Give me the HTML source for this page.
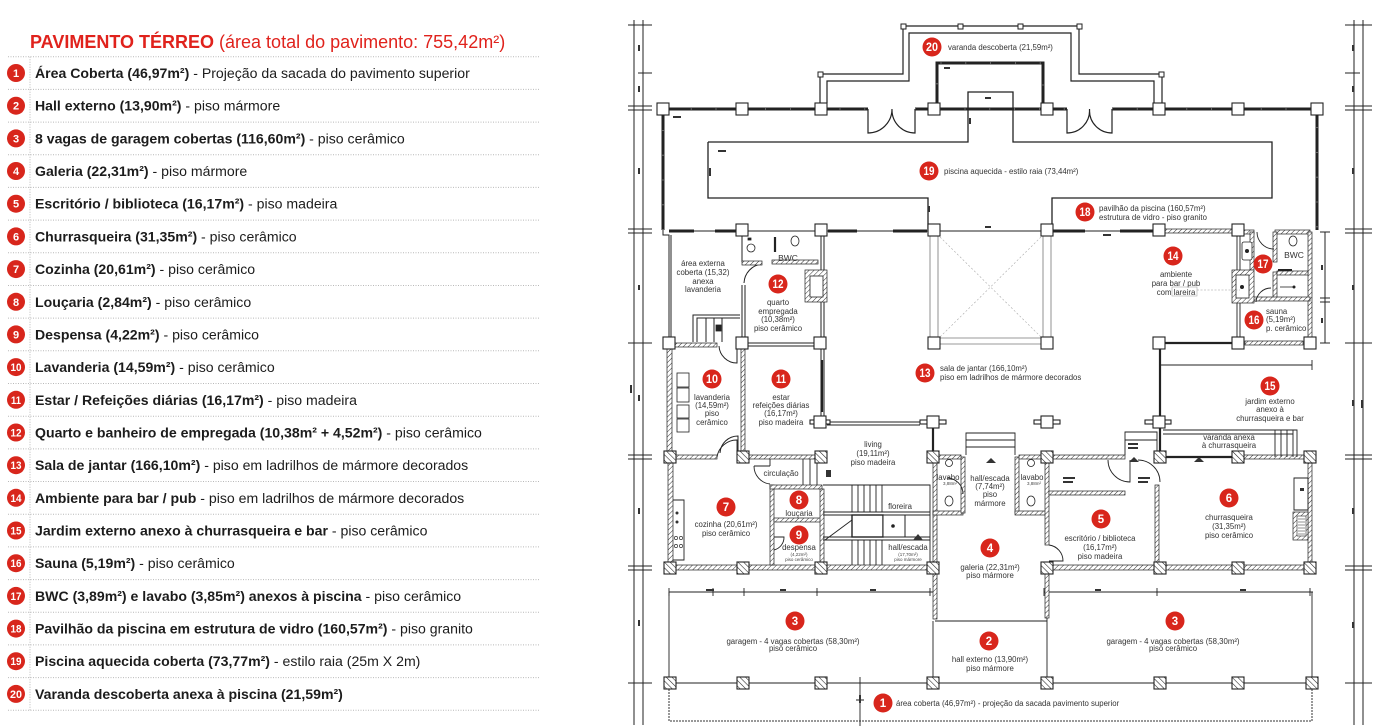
<!DOCTYPE html>
<html><head><meta charset="utf-8">
<style>
html,body{margin:0;padding:0;background:#fff;width:1390px;height:727px;overflow:hidden}
svg{display:block}
text{font-family:"Liberation Sans",Arial,sans-serif}
.lg{font-size:14.1px;fill:#1c1c1c}
.pl{font-size:7.8px;fill:#333}
.sm{font-size:4.5px;fill:#444}
.bn{font-family:"Liberation Sans Narrow","Liberation Sans",Arial,sans-serif;font-weight:bold;fill:#fff}
</style></head><body>
<svg width="1390" height="727" viewBox="0 0 1390 727" xmlns="http://www.w3.org/2000/svg">
<defs>
<pattern id="h" width="3.5" height="3.5" patternUnits="userSpaceOnUse" patternTransform="rotate(45)"><rect width="3.5" height="3.5" fill="#fff"/><line x1="0" y1="0" x2="0" y2="3.5" stroke="#333" stroke-width="1"/></pattern>
<pattern id="hc" width="4" height="4" patternUnits="userSpaceOnUse" patternTransform="rotate(-45)"><rect width="4" height="4" fill="#fff"/><line x1="0" y1="0" x2="0" y2="4" stroke="#222" stroke-width="1.1"/></pattern>
</defs>

<!-- ================= LEGEND ================= -->
<text x="30" y="48" font-size="18" fill="#e0221c"><tspan font-weight="bold">PAVIMENTO TÉRREO</tspan> (área total do pavimento: 755,42m²)</text>

<g stroke="#b9b9b9" stroke-width="1" stroke-dasharray="1 1.5">
<line x1="8" y1="56.7" x2="540" y2="56.7"/>
<line x1="8" y1="89.4" x2="540" y2="89.4"/>
<line x1="8" y1="122.1" x2="540" y2="122.1"/>
<line x1="8" y1="154.7" x2="540" y2="154.7"/>
<line x1="8" y1="187.4" x2="540" y2="187.4"/>
<line x1="8" y1="220.1" x2="540" y2="220.1"/>
<line x1="8" y1="252.8" x2="540" y2="252.8"/>
<line x1="8" y1="285.5" x2="540" y2="285.5"/>
<line x1="8" y1="318.1" x2="540" y2="318.1"/>
<line x1="8" y1="350.8" x2="540" y2="350.8"/>
<line x1="8" y1="383.5" x2="540" y2="383.5"/>
<line x1="8" y1="416.2" x2="540" y2="416.2"/>
<line x1="8" y1="448.9" x2="540" y2="448.9"/>
<line x1="8" y1="481.5" x2="540" y2="481.5"/>
<line x1="8" y1="514.2" x2="540" y2="514.2"/>
<line x1="8" y1="546.9" x2="540" y2="546.9"/>
<line x1="8" y1="579.6" x2="540" y2="579.6"/>
<line x1="8" y1="612.3" x2="540" y2="612.3"/>
<line x1="8" y1="644.9" x2="540" y2="644.9"/>
<line x1="8" y1="677.6" x2="540" y2="677.6"/>
<line x1="8" y1="710.3" x2="540" y2="710.3"/>
<line x1="30" y1="56.7" x2="30" y2="710.3"/>
</g>

<g fill="#d8261c">
<circle cx="16" cy="73" r="9"/><circle cx="16" cy="105.7" r="9"/><circle cx="16" cy="138.4" r="9"/><circle cx="16" cy="171" r="9"/><circle cx="16" cy="203.7" r="9"/>
<circle cx="16" cy="236.4" r="9"/><circle cx="16" cy="269.1" r="9"/><circle cx="16" cy="301.8" r="9"/><circle cx="16" cy="334.4" r="9"/><circle cx="16" cy="367.1" r="9"/>
<circle cx="16" cy="399.8" r="9"/><circle cx="16" cy="432.5" r="9"/><circle cx="16" cy="465.2" r="9"/><circle cx="16" cy="497.8" r="9"/><circle cx="16" cy="530.5" r="9"/>
<circle cx="16" cy="563.2" r="9"/><circle cx="16" cy="595.9" r="9"/><circle cx="16" cy="628.6" r="9"/><circle cx="16" cy="661.2" r="9"/><circle cx="16" cy="693.9" r="9"/>
</g>
<g class="bn" font-size="11" text-anchor="middle">
<text x="16" y="77">1</text><text x="16" y="109.7">2</text><text x="16" y="142.4">3</text><text x="16" y="175">4</text><text x="16" y="207.7">5</text>
<text x="16" y="240.4">6</text><text x="16" y="273.1">7</text><text x="16" y="305.8">8</text><text x="16" y="338.4">9</text>
<text x="16" y="371.1" textLength="11" lengthAdjust="spacingAndGlyphs">10</text>
<text x="16" y="403.8" textLength="10" lengthAdjust="spacingAndGlyphs">11</text>
<text x="16" y="436.5" textLength="11" lengthAdjust="spacingAndGlyphs">12</text>
<text x="16" y="469.2" textLength="11" lengthAdjust="spacingAndGlyphs">13</text>
<text x="16" y="501.8" textLength="11" lengthAdjust="spacingAndGlyphs">14</text>
<text x="16" y="534.5" textLength="11" lengthAdjust="spacingAndGlyphs">15</text>
<text x="16" y="567.2" textLength="11" lengthAdjust="spacingAndGlyphs">16</text>
<text x="16" y="599.9" textLength="11" lengthAdjust="spacingAndGlyphs">17</text>
<text x="16" y="632.6" textLength="11" lengthAdjust="spacingAndGlyphs">18</text>
<text x="16" y="665.2" textLength="11" lengthAdjust="spacingAndGlyphs">19</text>
<text x="16" y="697.9" textLength="12" lengthAdjust="spacingAndGlyphs">20</text>
</g>

<g class="lg">
<text x="35" y="78"><tspan font-weight="bold">Área Coberta (46,97m²)</tspan> - Projeção da sacada do pavimento superior</text>
<text x="35" y="110.7"><tspan font-weight="bold">Hall externo (13,90m²)</tspan> - piso mármore</text>
<text x="35" y="143.4"><tspan font-weight="bold">8 vagas de garagem cobertas (116,60m²)</tspan> - piso cerâmico</text>
<text x="35" y="176"><tspan font-weight="bold">Galeria (22,31m²)</tspan> - piso mármore</text>
<text x="35" y="208.7"><tspan font-weight="bold">Escritório / biblioteca (16,17m²)</tspan> - piso madeira</text>
<text x="35" y="241.4"><tspan font-weight="bold">Churrasqueira (31,35m²)</tspan> - piso cerâmico</text>
<text x="35" y="274.1"><tspan font-weight="bold">Cozinha (20,61m²)</tspan> - piso cerâmico</text>
<text x="35" y="306.8"><tspan font-weight="bold">Louçaria (2,84m²)</tspan> - piso cerâmico</text>
<text x="35" y="339.4"><tspan font-weight="bold">Despensa (4,22m²)</tspan> - piso cerâmico</text>
<text x="35" y="372.1"><tspan font-weight="bold">Lavanderia (14,59m²)</tspan> - piso cerâmico</text>
<text x="35" y="404.8"><tspan font-weight="bold">Estar / Refeições diárias (16,17m²)</tspan> - piso madeira</text>
<text x="35" y="437.5"><tspan font-weight="bold">Quarto e banheiro de empregada (10,38m² + 4,52m²)</tspan> - piso cerâmico</text>
<text x="35" y="470.2"><tspan font-weight="bold">Sala de jantar (166,10m²)</tspan> - piso em ladrilhos de mármore decorados</text>
<text x="35" y="502.8"><tspan font-weight="bold">Ambiente para bar / pub</tspan> - piso em ladrilhos de mármore decorados</text>
<text x="35" y="535.5"><tspan font-weight="bold">Jardim externo anexo à churrasqueira e bar</tspan> - piso cerâmico</text>
<text x="35" y="568.2"><tspan font-weight="bold">Sauna (5,19m²)</tspan> - piso cerâmico</text>
<text x="35" y="600.9"><tspan font-weight="bold">BWC (3,89m²) e lavabo (3,85m²) anexos à piscina</tspan> - piso cerâmico</text>
<text x="35" y="633.6"><tspan font-weight="bold">Pavilhão da piscina em estrutura de vidro (160,57m²)</tspan> - piso granito</text>
<text x="35" y="666.2"><tspan font-weight="bold">Piscina aquecida coberta (73,77m²)</tspan> - estilo raia (25m X 2m)</text>
<text x="35" y="698.9"><tspan font-weight="bold">Varanda descoberta anexa à piscina (21,59m²)</tspan></text>
</g>

<!-- ================= PLAN ================= -->
<g stroke="#222" fill="none" stroke-width="1">
<line x1="634" y1="20" x2="634" y2="725"/>
<line x1="643" y1="20" x2="643" y2="725"/>
<path d="M628 25H652M638 73H652M628 106H652M628 110H652M628 229H652M628 233H652M628 343H652M628 455H652M628 459H652M628 566H652M628 570H652M628 683H652"/>
<line x1="1354" y1="20" x2="1354" y2="725"/>
<line x1="1363" y1="20" x2="1363" y2="725"/>
<path d="M1345 25H1372M1345 73H1360M1345 106H1372M1345 110H1372M1345 229H1372M1345 233H1372M1345 343H1372M1345 455H1372M1345 459H1372M1345 566H1372M1345 570H1372M1345 683H1372"/>
<line x1="1325" y1="232" x2="1325" y2="343"/>
<path d="M1320 232H1330M1320 298H1330M1320 302H1330M1320 343H1330"/>
</g>
<g fill="#333">
<rect x="638" y="45" width="2" height="6"/><rect x="638" y="86" width="2" height="6"/><rect x="638" y="168" width="2" height="6"/><rect x="638" y="285" width="2" height="5"/><rect x="638" y="395" width="2" height="6"/><rect x="638" y="508" width="2" height="6"/><rect x="638" y="620" width="2" height="6"/><rect x="630" y="385" width="2" height="8"/>
<rect x="1352" y="45" width="2" height="6"/><rect x="1352" y="86" width="2" height="6"/><rect x="1352" y="168" width="2" height="6"/><rect x="1352" y="285" width="2" height="5"/><rect x="1352" y="400" width="2" height="6"/><rect x="1352" y="508" width="2" height="6"/><rect x="1352" y="622" width="2" height="6"/><rect x="1361" y="400" width="2" height="8"/>
<rect x="1321" y="265" width="2" height="5"/><rect x="1321" y="318" width="2" height="5"/>
</g>

<!-- pavilion -->
<g stroke="#222" fill="none">
<path d="M663 230V109H868M915 109H1067M1112 109H1317V230" stroke-width="3"/>
<path d="M937 109V63H1043V109" stroke-width="3"/>
<path d="M663 230V109H868M915 109H1067M1112 109H1317V230M937 109V63H1043V109" stroke="#fff" stroke-width="0.8" stroke-dasharray="0.8 24"/>
<path d="M868 109V133A24 24 0 0 0 892 109M915 109V133A23 23 0 0 1 892 110" stroke-width="1.2"/>
<path d="M1067 109V133A22.5 22.5 0 0 0 1089.5 109M1112 109V133A22.5 22.5 0 0 1 1089.5 110" stroke-width="1.2"/>
<path d="M820 103V74H903V26H1079V74H1162V103" stroke-width="1.2"/>
<path d="M827 103V81H909V33H1071V81H1154V103" stroke-width="1.2"/>
<path d="M708 142H968V92H1013V142H1272V198H1052V230M708 142V198H928V230" stroke-width="1.3"/>
</g>
<g fill="#fff" stroke="#222" stroke-width="1">
<rect x="818" y="72" width="5" height="5"/><rect x="901" y="24" width="5" height="5"/><rect x="958" y="24" width="5" height="5"/><rect x="1018" y="24" width="5" height="5"/><rect x="1077" y="24" width="5" height="5"/><rect x="1159" y="72" width="5" height="5"/>
</g>
<g fill="#333">
<rect x="673" y="116" width="8" height="2"/><rect x="718" y="150" width="8" height="2"/><rect x="709" y="168" width="2" height="8"/><rect x="928" y="206" width="2" height="6"/><rect x="969" y="118" width="2" height="6"/><rect x="985" y="97" width="6" height="2"/><rect x="944" y="67" width="6" height="2"/><rect x="1103" y="234" width="8" height="2"/><rect x="985" y="226" width="6" height="2"/>
</g>

<!-- row y=230 walls -->
<g stroke="#222" fill="none">
<path d="M669 231H742M742 231H1238" stroke-width="1"/>
<path d="M669 231H694M715 231H742M828 231H857M893 231H927M1052 231H1085M1120 231H1153" stroke-width="3"/>
</g>
<g stroke="#222" stroke-width="0.7" fill="url(#h)">
<rect x="1165" y="229" width="67" height="4"/>
<rect x="1244" y="230" width="10" height="4"/>
<rect x="1275" y="230" width="35" height="4"/>
</g>

<!-- atrium -->
<g stroke="#777" stroke-width="0.8" fill="none">
<path d="M930 236V337M938 236V337M1043 236V337M1051 236V337M940 338H1041M940 344H1041"/>
<path d="M940 237L1041 337M1041 237L940 337" stroke="#aaa" stroke-dasharray="2 2" stroke-width="0.6"/>
</g>

<!-- left upper block -->
<g stroke="#222" fill="none" stroke-width="1">
<path d="M663 230V235H669V337M671 235V337"/>
<path d="M742 236V262M821 236V337M824 236V337"/>
<path d="M742 285V337M745 285V337"/>
<path d="M762 264A20 20 0 0 0 744 283"/>
<path d="M693 342V315H740M697 342V318H740M706 318V342M714 318V342M722 318V342"/>
<path d="M748 343H815M748 346H815"/>
<path d="M737 346V363A18 18 0 0 1 719 346"/>
<path d="M821 349V416M824 349V416"/>
<path d="M827 422H920M827 425H920"/>
<path d="M720 453A18 18 0 0 1 738 436V453"/>
</g>
<g stroke="#222" stroke-width="0.7" fill="url(#h)">
<rect x="742" y="261" width="20" height="4"/>
<rect x="772" y="260" width="46" height="4"/>
<rect x="805" y="270" width="22" height="32"/>
<rect x="667" y="349" width="5" height="102"/>
<rect x="741" y="349" width="4" height="102"/>
<rect x="675" y="343" width="42" height="4"/>
</g>
<rect x="810" y="276" width="13" height="21" fill="#fff" stroke="#222" stroke-width="0.8"/>
<g stroke="#222" stroke-width="0.8" fill="#fff">
<circle cx="751" cy="248" r="4"/><ellipse cx="795" cy="241" rx="4" ry="5"/><rect x="748" y="238" width="3" height="2" fill="#222"/>
<rect x="677" y="373" width="12" height="14"/><rect x="677" y="388" width="12" height="14"/><rect x="677" y="405" width="12" height="13"/><rect x="677" y="419" width="12" height="13"/>
<rect x="716" y="325" width="5" height="6" fill="#222"/>
</g>
<g stroke="#222" stroke-width="2.2"><line x1="775" y1="237" x2="775" y2="252"/><line x1="822" y1="360" x2="822" y2="412"/><line x1="933" y1="428" x2="933" y2="452"/><line x1="1160" y1="349" x2="1160" y2="416"/><line x1="1160" y1="428" x2="1160" y2="452"/></g>

<!-- left lower block -->
<g stroke="#222" stroke-width="0.7" fill="url(#h)">
<rect x="676" y="455" width="41" height="4"/>
<rect x="749" y="455" width="66" height="4"/>
<rect x="668" y="463" width="5" height="99"/>
<rect x="676" y="565" width="251" height="5"/>
<rect x="770" y="485" width="4" height="80"/>
<rect x="770" y="485" width="52" height="4"/>
<rect x="774" y="518" width="48" height="4"/>
<rect x="820" y="489" width="4" height="76"/>
<rect x="933" y="513" width="4" height="50"/>
<rect x="933" y="574" width="4" height="45"/>
</g>
<g stroke="#222" fill="none" stroke-width="0.9">
<path d="M717 457A20 20 0 0 1 737 440V457"/>
<path d="M770 459V466M754 466H770M754 466A18 18 0 0 0 770 484"/>
<path d="M774 537H784A13 13 0 0 1 774 550"/>
<path d="M803 459V485M810 459V485M817 459V485"/>
<path d="M823 485H930V567M823 512H930M823 515H930M823 537H930M823 540H930"/>
<path d="M852 485V512M858 485V512M864 485V512M870 485V512M876 485V512M882 485V512"/>
<path d="M852 540V565M858 540V565M864 540V565M870 540V565M876 540V565M882 540V565"/>
<path d="M825 540L852 520"/>
<path d="M673 500H684V560H673"/>
<path d="M669 592V683M933 621V683M669 592H933M1044 592H1313"/>
<path d="M669 588V596M713 588V596M744 588V596M817 588V596M930 588V596M1044 588V596M1157 588V596M1310 588V596"/>
<path d="M669 683H1312M1047 585V683M1312 592V683"/>
<path d="M860 677V726M856 700H864"/>
</g>
<rect x="852" y="515" width="31" height="22" fill="#fff" stroke="#222" stroke-width="1.4"/>
<rect x="883" y="515" width="22" height="22" fill="#fff" stroke="#222" stroke-width="1"/>
<circle cx="893" cy="526" r="1.8" fill="#222"/>
<path d="M669 683V721H1312V683" fill="none" stroke="#333" stroke-width="1" stroke-dasharray="2 1"/>
<g fill="#333">
<rect x="826" y="470" width="5" height="7"/>
<circle cx="677" cy="513" r="1.5"/><circle cx="677" cy="522" r="1.5"/>
<circle cx="676" cy="538" r="1.6" fill="none" stroke="#333" stroke-width="0.7"/><circle cx="681" cy="538" r="1.6" fill="none" stroke="#333" stroke-width="0.7"/><circle cx="676" cy="546" r="1.6" fill="none" stroke="#333" stroke-width="0.7"/><circle cx="681" cy="546" r="1.6" fill="none" stroke="#333" stroke-width="0.7"/>
<path d="M913 540L918 534L923 540Z"/>
<rect x="706" y="589" width="8" height="2"/><rect x="780" y="589" width="6" height="2"/><rect x="870" y="589" width="6" height="2"/><rect x="1095" y="589" width="6" height="2"/><rect x="1240" y="589" width="6" height="2"/>
<rect x="859" y="695" width="2" height="8"/>
</g>

<!-- middle block -->
<g stroke="#222" stroke-width="0.7" fill="url(#h)">
<rect x="933" y="463" width="4" height="50"/>
<rect x="933" y="511" width="30" height="4"/>
<rect x="961" y="457" width="4" height="56"/>
<rect x="937" y="455" width="24" height="4"/>
<rect x="1015" y="457" width="4" height="56"/>
<rect x="1015" y="511" width="32" height="4"/>
<rect x="1019" y="455" width="24" height="4"/>
<rect x="1045" y="574" width="4" height="44"/>
</g>
<g stroke="#222" fill="none" stroke-width="0.9">
<path d="M966 455V433H1015V455M966 440H1015M966 447H1015"/>
<path d="M947 478A16 16 0 0 1 963 494"/>
<path d="M935 621H1044M1000 621H1047"/>
</g>
<g stroke="#222" stroke-width="0.8" fill="#fff">
<circle cx="949" cy="463" r="3.5"/><ellipse cx="949" cy="501" rx="4" ry="5"/>
<circle cx="1031" cy="463" r="3.5"/><ellipse cx="1031" cy="501" rx="4" ry="5"/>
</g>
<path d="M986 463L991 458L996 463Z" fill="#333"/>

<!-- right lower block -->
<g stroke="#222" stroke-width="0.7" fill="url(#h)">
<rect x="1052" y="455" width="73" height="4"/>
<rect x="1244" y="455" width="61" height="4"/>
<rect x="1045" y="463" width="4" height="82"/>
<rect x="1049" y="491" width="76" height="4"/>
<rect x="1155" y="485" width="4" height="78"/>
<rect x="1308" y="463" width="4" height="99"/>
<rect x="1052" y="565" width="253" height="5"/>
<rect x="1293" y="512" width="15" height="28"/>
</g>
<rect x="1297" y="516" width="9" height="20" fill="#fff" stroke="#222" stroke-width="0.6"/>
<path d="M1298 519H1305M1298 522H1305M1298 525H1305M1298 528H1305M1298 531H1305M1298 534H1305" stroke="#222" stroke-width="0.6"/>
<g stroke="#222" fill="none" stroke-width="0.9">
<path d="M1165 457H1232" stroke-width="2.2"/>
<path d="M1294 478H1308V510H1294Z"/>
<path d="M1049 545A16 16 0 0 1 1063 561H1049"/>
<path d="M1108 460A22 22 0 0 0 1130 482V460M1138 460A22 22 0 0 1 1160 482"/>
<path d="M1125 455V432H1157V452M1125 440H1157"/>
<path d="M1163 430H1297V457M1163 434H1293M1275 430V457M1281 430V457M1287 430V457M1293 430V457"/>
<path d="M1160 365H1312M1312 360V370"/>
</g>
<g fill="#333"><rect x="1300" y="488" width="4" height="3"/><path d="M1194 462L1199 457L1204 462Z"/><path d="M1129 462L1134 457L1139 462Z"/><rect x="1128" y="443" width="10" height="2"/><rect x="1128" y="447" width="10" height="2"/><rect x="1063" y="477" width="12" height="2"/><rect x="1063" y="481" width="10" height="2"/><rect x="1138" y="477" width="12" height="2"/><rect x="1138" y="481" width="10" height="2"/></g>

<!-- right upper block -->
<g stroke="#222" stroke-width="0.7" fill="url(#h)">
<rect x="1250" y="232" width="4" height="38"/>
<rect x="1273" y="232" width="4" height="30"/>
<rect x="1308" y="232" width="4" height="105"/>
<rect x="1273" y="272" width="4" height="26"/>
<rect x="1277" y="271" width="31" height="4"/>
<rect x="1240" y="297" width="70" height="4"/>
<rect x="1232" y="270" width="22" height="33"/>
<rect x="1245" y="341" width="58" height="4"/>
</g>
<rect x="1236" y="275" width="13" height="23" fill="#fff" stroke="#222" stroke-width="0.8"/>
<circle cx="1242" cy="287" r="2" fill="#222"/>
<g stroke="#222" fill="none" stroke-width="0.9">
<path d="M1237 236V270M1240 236V270M1237 303V337M1240 303V337"/>
<path d="M1257 232A17 17 0 0 0 1274 249"/>
<path d="M1256 302A15 15 0 0 1 1271 288"/>
<path d="M1278 270H1292" stroke-width="2"/>
<path d="M1165 343H1232" stroke-width="2.2"/>
<path d="M1197 290H1240" stroke="#999" stroke-width="0.6" stroke-dasharray="2 1.5"/>
</g>
<rect x="1172" y="287" width="25" height="9" fill="none" stroke="#aaa" stroke-width="0.6"/>
<g stroke="#222" stroke-width="0.8" fill="#fff"><ellipse cx="1293" cy="241" rx="4" ry="5"/><rect x="1242" y="242" width="10" height="18" rx="2"/></g>
<circle cx="1247" cy="251" r="2" fill="#222"/><circle cx="1294" cy="287" r="1.5" fill="#222"/><line x1="1280" y1="287" x2="1294" y2="287" stroke="#222" stroke-width="0.8"/>

<!-- plain columns -->
<g fill="#fff" stroke="#222" stroke-width="1.1">
<rect x="657" y="103" width="12" height="12"/><rect x="736" y="103" width="12" height="12"/><rect x="815" y="103" width="12" height="12"/><rect x="928" y="103" width="12" height="12"/><rect x="1041" y="103" width="12" height="12"/><rect x="1153" y="103" width="12" height="12"/><rect x="1232" y="103" width="12" height="12"/><rect x="1311" y="103" width="12" height="12"/>
<rect x="736" y="224" width="12" height="12"/><rect x="815" y="224" width="12" height="12"/><rect x="928" y="224" width="12" height="12"/><rect x="1041" y="224" width="12" height="12"/><rect x="1153" y="224" width="12" height="12"/><rect x="1232" y="224" width="12" height="12"/>
<rect x="928" y="337" width="12" height="12"/><rect x="1041" y="337" width="12" height="12"/>
<rect x="663" y="337" width="12" height="12"/><rect x="736" y="337" width="12" height="12"/><rect x="814" y="337" width="12" height="12"/>
<rect x="1153" y="337" width="12" height="12"/><rect x="1232" y="337" width="12" height="12"/><rect x="1304" y="337" width="12" height="12"/>
<rect x="1145" y="420" width="26" height="4"/><rect x="920" y="420" width="26" height="4"/><rect x="1034" y="420" width="26" height="4"/><rect x="810" y="420" width="20" height="4"/>
<rect x="814" y="416" width="12" height="12"/><rect x="927" y="416" width="12" height="12"/><rect x="1041" y="416" width="12" height="12"/><rect x="1153" y="416" width="12" height="12"/>
</g>
<!-- hatched columns -->
<g fill="url(#hc)" stroke="#222" stroke-width="1.1">
<rect x="664" y="451" width="12" height="12"/><rect x="737" y="451" width="12" height="12"/><rect x="815" y="451" width="12" height="12"/><rect x="927" y="451" width="12" height="12"/><rect x="1041" y="451" width="12" height="12"/><rect x="1154" y="451" width="12" height="12"/><rect x="1232" y="451" width="12" height="12"/><rect x="1304" y="451" width="12" height="12"/>
<rect x="664" y="562" width="12" height="12"/><rect x="737" y="562" width="12" height="12"/><rect x="815" y="562" width="12" height="12"/><rect x="927" y="562" width="12" height="12"/><rect x="1041" y="562" width="12" height="12"/><rect x="1154" y="562" width="12" height="12"/><rect x="1232" y="562" width="12" height="12"/><rect x="1304" y="562" width="12" height="12"/>
<rect x="664" y="677" width="12" height="12"/><rect x="737" y="677" width="12" height="12"/><rect x="815" y="677" width="12" height="12"/><rect x="927" y="677" width="12" height="12"/><rect x="1041" y="677" width="12" height="12"/><rect x="1154" y="677" width="12" height="12"/><rect x="1232" y="677" width="12" height="12"/><rect x="1306" y="677" width="12" height="12"/>
</g>

<!-- plan labels -->
<g class="pl">
<text x="948" y="50">varanda descoberta (21,59m²)</text>
<text x="944" y="174">piscina aquecida - estilo raia (73,44m²)</text>
<text x="1099" y="211">pavilhão da piscina (160,57m²)</text>
<text x="1099" y="220">estrutura de vidro - piso granito</text>
<text x="940" y="371">sala de jantar (166,10m²)</text>
<text x="940" y="380">piso em ladrilhos de mármore decorados</text>
<text x="1266" y="314">sauna</text>
<text x="1266" y="322">(5,19m²)</text>
<text x="1266" y="331">p. cerâmico</text>
<text x="896" y="706">área coberta (46,97m²) - projeção da sacada pavimento superior</text>
</g>
<g class="pl" text-anchor="middle">
<text x="703" y="266">área externa</text>
<text x="703" y="275">coberta (15,32)</text>
<text x="703" y="284">anexa</text>
<text x="703" y="292">lavanderia</text>
<text x="788" y="261" font-size="8.5">BWC</text>
<text x="778" y="305">quarto</text>
<text x="778" y="314">empregada</text>
<text x="778" y="322">(10,38m²)</text>
<text x="778" y="331">piso cerâmico</text>
<text x="712" y="400">lavanderia</text>
<text x="712" y="408">(14,59m²)</text>
<text x="712" y="416">piso</text>
<text x="712" y="425">cerâmico</text>
<text x="781" y="400">estar</text>
<text x="781" y="408">refeições diárias</text>
<text x="781" y="416">(16,17m²)</text>
<text x="781" y="425">piso madeira</text>
<text x="1176" y="277">ambiente</text>
<text x="1176" y="286">para bar / pub</text>
<text x="1176" y="295">com lareira</text>
<text x="1294" y="258" font-size="8.5">BWC</text>
<text x="1270" y="404">jardim externo</text>
<text x="1270" y="412">anexo à</text>
<text x="1270" y="421">churrasqueira e bar</text>
<text x="1229" y="440">varanda anexa</text>
<text x="1229" y="448">à churrasqueira</text>
<text x="873" y="447">living</text>
<text x="873" y="456">(19,11m²)</text>
<text x="873" y="465">piso madeira</text>
<text x="781" y="476">circulação</text>
<text x="799" y="516">louçaria</text>
<text x="726" y="527">cozinha (20,61m²)</text>
<text x="726" y="536">piso cerâmico</text>
<text x="799" y="550">despensa</text>
<text x="799" y="556" class="sm">(4,22m²)</text>
<text x="799" y="561" class="sm">piso cerâmico</text>
<text x="900" y="509">floreira</text>
<text x="908" y="550">hall/escada</text>
<text x="908" y="556" class="sm">(17,70m²)</text>
<text x="908" y="561" class="sm">piso mármore</text>
<text x="948" y="480">lavabo</text>
<text x="950" y="485" class="sm">3,88m²</text>
<text x="1032" y="480">lavabo</text>
<text x="1034" y="485" class="sm">3,88m²</text>
<text x="990" y="481">hall/escada</text>
<text x="990" y="489">(7,74m²)</text>
<text x="990" y="497">piso</text>
<text x="990" y="506">mármore</text>
<text x="1100" y="541">escritório / biblioteca</text>
<text x="1100" y="550">(16,17m²)</text>
<text x="1100" y="559">piso madeira</text>
<text x="1229" y="520">churrasqueira</text>
<text x="1229" y="529">(31,35m²)</text>
<text x="1229" y="538">piso cerâmico</text>
<text x="990" y="570">galeria (22,31m²)</text>
<text x="990" y="578">piso mármore</text>
<text x="793" y="644">garagem - 4 vagas cobertas (58,30m²)</text>
<text x="793" y="651">piso cerâmico</text>
<text x="1173" y="644">garagem - 4 vagas cobertas (58,30m²)</text>
<text x="1173" y="651">piso cerâmico</text>
<text x="990" y="662">hall externo (13,90m²)</text>
<text x="990" y="671">piso mármore</text>
</g>

<!-- plan badges -->
<g fill="#d8261c">
<circle cx="932" cy="47" r="9.5"/><circle cx="929" cy="171" r="9.5"/><circle cx="1085" cy="212" r="9.5"/><circle cx="778" cy="284" r="9.5"/><circle cx="1173" cy="256" r="9.5"/><circle cx="1263" cy="264" r="9.5"/><circle cx="1254" cy="320" r="9.5"/><circle cx="925" cy="373" r="9.5"/><circle cx="712" cy="379" r="9.5"/><circle cx="781" cy="379" r="9.5"/><circle cx="1270" cy="386" r="9.5"/><circle cx="726" cy="507" r="9.5"/><circle cx="799" cy="500" r="9.5"/><circle cx="799" cy="535" r="9.5"/><circle cx="990" cy="548" r="9.5"/><circle cx="1101" cy="519" r="9.5"/><circle cx="1229" cy="498" r="9.5"/><circle cx="795" cy="621" r="9.5"/><circle cx="1175" cy="621" r="9.5"/><circle cx="989" cy="641" r="9.5"/><circle cx="883" cy="703" r="9.5"/>
</g>
<g class="bn" font-size="11.5" text-anchor="middle">
<text x="932" y="51" textLength="12" lengthAdjust="spacingAndGlyphs">20</text>
<text x="929" y="175" textLength="11" lengthAdjust="spacingAndGlyphs">19</text>
<text x="1085" y="216" textLength="11" lengthAdjust="spacingAndGlyphs">18</text>
<text x="778" y="288" textLength="11" lengthAdjust="spacingAndGlyphs">12</text>
<text x="1173" y="260" textLength="11" lengthAdjust="spacingAndGlyphs">14</text>
<text x="1263" y="268" textLength="11" lengthAdjust="spacingAndGlyphs">17</text>
<text x="1254" y="324" textLength="11" lengthAdjust="spacingAndGlyphs">16</text>
<text x="925" y="377" textLength="11" lengthAdjust="spacingAndGlyphs">13</text>
<text x="712" y="383" textLength="12" lengthAdjust="spacingAndGlyphs">10</text>
<text x="781" y="383" textLength="10" lengthAdjust="spacingAndGlyphs">11</text>
<text x="1270" y="390" textLength="11" lengthAdjust="spacingAndGlyphs">15</text>
<text x="726" y="511">7</text><text x="799" y="504">8</text><text x="799" y="539">9</text><text x="990" y="552">4</text><text x="1101" y="523">5</text><text x="1229" y="502">6</text><text x="795" y="625">3</text><text x="1175" y="625">3</text><text x="989" y="645">2</text><text x="883" y="707">1</text>
</g>
</svg>
</body></html>
